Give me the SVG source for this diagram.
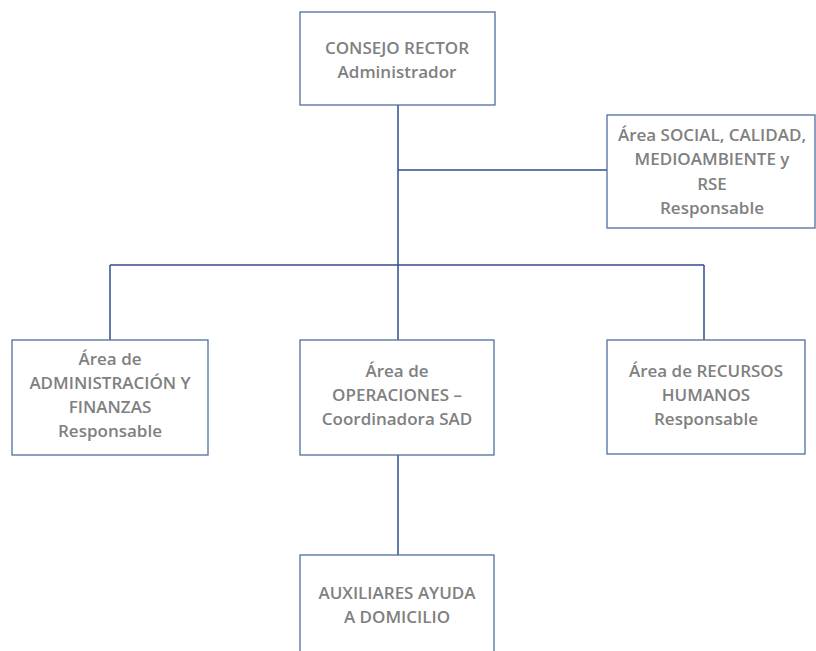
<svg xmlns="http://www.w3.org/2000/svg" width="816" height="651" viewBox="0 0 816 651">
<style>
.box{fill:#fff;stroke:#4f6f9f;stroke-width:1.3}
.t{font-family:"Open Sans","Liberation Sans",sans-serif;font-weight:600;font-size:17px;fill:#808080;text-anchor:middle}
.c{stroke:#2f4f8f;stroke-width:1.5;fill:none}
</style>
<rect width="816" height="651" fill="#fff"/>
<g id="connectors">
<path class="c" d="M398 105V265M398 170H607M110 265H704M110 265V340M398 265V340M704 265V340M398 455V555"/>
</g>
<g id="consejo">
<rect class="box" x="300" y="12" width="195" height="93"/>
<text class="t" x="397" y="54">CONSEJO RECTOR</text>
<text class="t" x="397" y="78">Administrador</text>
</g>
<g id="social">
<rect class="box" x="607" y="115" width="208" height="113"/>
<text class="t" x="712" y="141">Área SOCIAL, CALIDAD,</text>
<text class="t" x="712" y="165">MEDIOAMBIENTE y</text>
<text class="t" x="712" y="190">RSE</text>
<text class="t" x="712" y="214">Responsable</text>
</g>
<g id="admin">
<rect class="box" x="12" y="340" width="196" height="115"/>
<text class="t" x="110" y="365">Área de</text>
<text class="t" x="110" y="389">ADMINISTRACIÓN Y</text>
<text class="t" x="110" y="413">FINANZAS</text>
<text class="t" x="110" y="437">Responsable</text>
</g>
<g id="operaciones">
<rect class="box" x="300" y="340" width="194" height="115"/>
<text class="t" x="397" y="377">Área de</text>
<text class="t" x="397" y="401">OPERACIONES –</text>
<text class="t" x="397" y="425">Coordinadora SAD</text>
</g>
<g id="rrhh">
<rect class="box" x="607" y="340" width="198" height="114"/>
<text class="t" x="706" y="377">Área de RECURSOS</text>
<text class="t" x="706" y="401">HUMANOS</text>
<text class="t" x="706" y="425">Responsable</text>
</g>
<g id="auxiliares">
<rect class="box" x="300" y="555" width="194" height="110"/>
<text class="t" x="397" y="599">AUXILIARES AYUDA</text>
<text class="t" x="397" y="623">A DOMICILIO</text>
</g>
</svg>
